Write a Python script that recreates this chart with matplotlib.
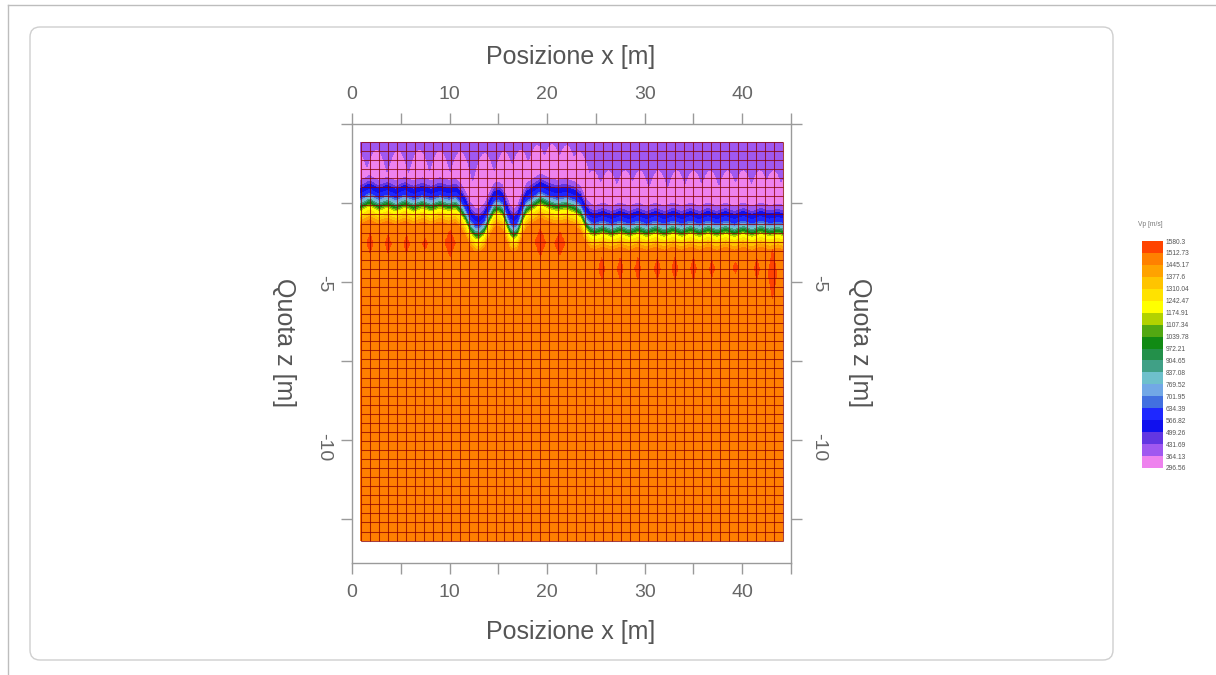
import numpy as np
import matplotlib
matplotlib.use("Agg")
import matplotlib.pyplot as plt
from matplotlib.colors import ListedColormap, BoundaryNorm
from matplotlib.cm import ScalarMappable
from matplotlib.patches import FancyBboxPatch
from matplotlib.lines import Line2D

plt.rcParams['font.family'] = ['Liberation Sans', 'DejaVu Sans']

# ---------------- colour scale (Vp, m/s) ----------------
vp_levels = [296.56, 364.13, 431.69, 499.26, 566.82, 634.39, 701.95, 769.52,
             837.08, 904.65, 972.21, 1039.78, 1107.34, 1174.91, 1242.47,
             1310.04, 1377.6, 1445.17, 1512.73, 1580.3]
vp_labels = ["296.56", "364.13", "431.69", "499.26", "566.82", "634.39", "701.95",
             "769.52", "837.08", "904.65", "972.21", "1039.78", "1107.34", "1174.91",
             "1242.47", "1310.04", "1377.6", "1445.17", "1512.73", "1580.3"]
vp_colors = ['#ee82ee', '#a058f0', '#6236e2', '#1010ee', '#1e28ff', '#4270e0',
             '#72a8e6', '#6ec0cc', '#40a086', '#23904a', '#118a14', '#52a812',
             '#b2d200', '#ffff00', '#ffe200', '#ffc400', '#ffa200', '#ff8000',
             '#ff4400']

# ---------------- model grid ----------------
x_left, x_right = 0.9, 44.17
z_top, z_bottom = -0.57, -13.19
n_cols, n_rows = 47, 44

# depth of the low-velocity / high-velocity interface (centre of blue band)
iface_x = [0.9, 1.8, 2.7, 3.6, 4.5, 5.4, 6.3, 7.2, 8.1, 9.0,
           9.9, 10.6, 11.1, 11.6, 12.1, 12.6, 13.1, 13.6, 14.1, 14.6,
           15.0, 15.4, 15.8, 16.2, 16.6, 17.0, 17.4, 17.9, 18.6, 19.3,
           20.1, 21.0, 21.9, 22.8, 23.4, 23.9, 24.4, 24.9, 25.7, 26.6,
           27.5, 28.4, 29.3, 30.2, 31.1, 32.0, 32.9, 33.8, 34.7, 35.6,
           36.5, 37.4, 38.3, 39.2, 40.1, 41.0, 41.9, 42.8, 43.7, 44.2]
iface_z = [-2.2, -2.05, -2.2, -2.1, -2.22, -2.1, -2.22, -2.12, -2.22, -2.12,
           -2.2, -2.15, -2.3, -2.55, -2.9, -3.08, -3.1, -2.95, -2.6, -2.3,
           -2.25, -2.35, -2.7, -3.0, -3.1, -3.0, -2.65, -2.3, -2.15, -2.0,
           -2.12, -2.2, -2.15, -2.25, -2.4, -2.75, -2.95, -3.0, -2.92, -3.02,
           -2.92, -3.02, -2.92, -3.02, -2.92, -3.02, -2.92, -3.02, -2.92, -3.02,
           -2.92, -3.02, -2.92, -3.02, -2.92, -3.02, -2.92, -3.0, -2.95, -3.0]

# pink (slowest) bubbles inside the low-velocity layer: centre x and top depth [m]
bubble_x = [0.6, 2.5, 4.7, 6.9, 9.0, 11.1, 13.6, 15.6, 17.3, 19.0,
            20.5, 22.0, 23.3, 24.7, 26.3, 28.0, 29.5, 31.4, 33.3, 35.0,
            36.7, 38.5, 40.1, 41.8, 43.2, 44.8]
bubble_top = [0.85, 0.8, 0.82, 0.8, 0.82, 0.85, 0.9, 0.85, 0.8, 0.65,
              0.62, 0.65, 0.85, 1.45, 1.45, 1.45, 1.45, 1.45, 1.45, 1.45,
              1.45, 1.45, 1.45, 1.45, 1.45, 1.45]
bubble_curv = 0.6

# velocity transition around the interface (offset below interface [m] -> Vp)
prof_d = [-0.22, -0.15, 0.0, 0.15, 0.2, 0.25, 0.3, 0.34, 0.38, 0.43,
          0.48, 0.53, 0.58, 0.68, 0.78, 0.88, 0.98, 1.1]
prof_v = [440, 500, 560, 630, 680, 740, 800, 850, 910, 980,
          1040, 1110, 1180, 1245, 1310, 1380, 1445, 1480]
blend_start = -0.5
v_pink = 330.0
v_purple = 400.0

# high-velocity (red) spots inside the bedrock
spot_x = [1.85, 3.7, 5.6, 7.5, 10.05, 19.3, 21.3, 25.6, 27.5, 29.3,
          31.3, 33.1, 35.0, 36.9, 39.3, 41.5, 43.1]
spot_z = [-3.77, -3.8, -3.8, -3.8, -3.77, -3.75, -3.78, -4.58, -4.58, -4.58,
          -4.58, -4.58, -4.58, -4.58, -4.55, -4.58, -4.75]
spot_w = [0.32, 0.32, 0.3, 0.25, 0.55, 0.55, 0.55, 0.32, 0.32, 0.32,
          0.32, 0.32, 0.32, 0.28, 0.25, 0.3, 0.45]
spot_h = [0.32, 0.3, 0.28, 0.18, 0.42, 0.45, 0.38, 0.36, 0.36, 0.36,
          0.36, 0.36, 0.36, 0.26, 0.2, 0.32, 0.8]

# ---------------- build field ----------------
xf = np.linspace(x_left, x_right, 700)
zf = np.linspace(z_top, z_bottom, 700)
XX, ZZ = np.meshgrid(xf, zf)
zi = np.interp(xf, iface_x, iface_z)[None, :]
bx = np.array(bubble_x)[:, None]
bt = np.array(bubble_top)[:, None]
cap = np.min(bt + bubble_curv * (xf[None, :] - bx) ** 2, axis=0)[None, :]
depth = -ZZ
top_val = v_pink + (v_purple - v_pink) * np.clip((cap - depth) / 0.12 + 0.5, 0, 1)
d = zi - ZZ
prof = np.interp(d, prof_d, prof_v)
w = np.clip((d - blend_start) / (prof_d[0] - blend_start), 0, 1)
V = np.where(d < prof_d[0], top_val * (1 - w) + prof_v[0] * w, prof)
for sx, sz, sw, sh in zip(spot_x, spot_z, spot_w, spot_h):
    r = np.abs(XX - sx) / sw + np.abs(ZZ - sz) / sh
    bump = np.where(r < 1, 1512.73 + 40 * (1 - r), 0)
    V = np.maximum(V, bump)
V = np.clip(V, 300, 1575)

# ---------------- figure ----------------
W, H = 1216, 675
fig = plt.figure(figsize=(W / 100, H / 100), dpi=100)
fig.patch.set_facecolor('white')

fig.add_artist(Line2D([8 / W, 1], [1 - 5 / H, 1 - 5 / H], transform=fig.transFigure,
                      color='#bdbdbd', lw=1))
fig.add_artist(Line2D([8 / W, 8 / W], [0, 1 - 5 / H], transform=fig.transFigure,
                      color='#bdbdbd', lw=1))
panel = FancyBboxPatch((0.30, 0.15), 11.13 - 0.30, 6.48 - 0.15,
                       boxstyle="round,pad=0,rounding_size=0.1",
                       transform=fig.dpi_scale_trans, facecolor='white',
                       edgecolor='#cfcfcf', lw=1.0, zorder=0)
fig.add_artist(panel)

ax = fig.add_axes([352 / W, 1 - 563 / H, (791 - 352) / W, (563 - 124) / H])
ax.set_facecolor('white')
cmap = ListedColormap(vp_colors)
norm = BoundaryNorm(vp_levels, cmap.N)
ax.contourf(xf, zf, V, levels=vp_levels, colors=vp_colors, antialiased=False)

xe = np.linspace(x_left, x_right, n_cols + 1)
ze = np.linspace(z_top, z_bottom, n_rows + 1)
ax.vlines(xe, z_bottom, z_top, colors='#8a0000', lw=0.75, alpha=0.75)
ax.hlines(ze, x_left, x_right, colors='#8a0000', lw=0.75, alpha=0.75)

ax.set_xlim(0, 45)
ax.set_ylim(-13.9, 0)

tick_col = '#666666'
xt = np.arange(0, 46, 5)
ax.set_xticks(xt)
ax.set_xticklabels([str(int(v)) if v % 10 == 0 else '' for v in xt])
yt = [0, -2.5, -5, -7.5, -10, -12.5]
ax.set_yticks(yt)
ax.set_yticklabels(['', '', '-5', '', '-10', ''])
ax.tick_params(axis='both', which='both', top=True, right=True, labeltop=True,
               labelright=True, direction='out', length=8, width=1,
               color='#9a9a9a', labelcolor=tick_col, labelsize=14)
ax.tick_params(axis='x', pad=7)
ax.tick_params(axis='y', pad=6, labelrotation=-90)
for s in ax.spines.values():
    s.set_color('#9a9a9a')
    s.set_linewidth(1.0)

lab_kw = dict(fontsize=18, color='#555555', ha='center', va='center')
fig.text(571 / W, 1 - 57 / H, 'Posizione x [m]', **lab_kw)
fig.text(571 / W, 1 - 632 / H, 'Posizione x [m]', **lab_kw)
fig.text(284 / W, 1 - 343 / H, 'Quota z [m]', rotation=-90, **lab_kw)
fig.text(860 / W, 1 - 343 / H, 'Quota z [m]', rotation=-90, **lab_kw)

# colour bar
cax = fig.add_axes([1142 / W, 1 - 468 / H, 21 / W, 227 / H])
cb = fig.colorbar(ScalarMappable(norm=norm, cmap=cmap), cax=cax, ticks=vp_levels)
cb.ax.set_yticklabels(vp_labels)
cb.ax.tick_params(length=0, labelsize=4.8, labelcolor='#555555', pad=2)
cb.outline.set_visible(False)
fig.text(1150 / W, 1 - 224 / H, 'Vp [m/s]', fontsize=4.8, color='#777777',
         ha='center', va='center')

fig.savefig('out.png', dpi=100)
